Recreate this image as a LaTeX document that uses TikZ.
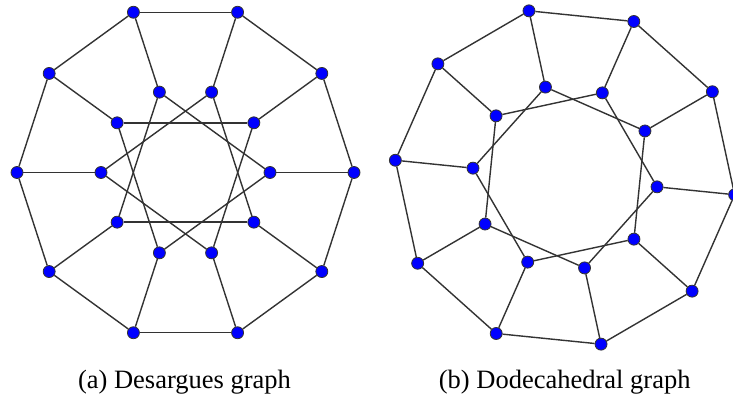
\documentclass[tikz,border=0pt]{standalone}
\usepackage{fontspec}
\setmainfont{Liberation Serif}
\usetikzlibrary{positioning}

\begin{document}
\begin{tikzpicture}[
    x=0.5pt, y=0.5pt,
    vert/.style={circle, draw=black!80, fill=blue, inner sep=0pt, minimum size=6pt, line width=0.4pt},
    edge/.style={draw=black!80, line width=0.7pt},
    caption/.style={anchor=base, font=\fontsize{13.25}{15}\selectfont}
]
    \useasboundingbox (0,0) rectangle (733,396);

    % Desargues graph
    \begin{scope}[shift={(185.5,223.5)}]
        \foreach \i in {0,...,9} {
            \node[vert] (desO\i) at (\i*36:168.5) {};
            \node[vert] (desI\i) at (\i*36:84.5) {};
        }
    \end{scope}

    % Dodecahedral graph
    \begin{scope}[shift={(565,218.5)}]
        \foreach \i in {0,...,9} {
            \node[vert] (dodO\i) at (\i*36-5.8:170.5) {};
            \node[vert] (dodI\i) at (\i*36-5.8:92.5) {};
        }
    \end{scope}

    % Edges: outer ring, spokes, inner star
    \foreach \i in {0,...,9} {
        \pgfmathtruncatemacro{\nxt}{mod(\i+1,10)}
        \pgfmathtruncatemacro{\tri}{mod(\i+3,10)}
        \pgfmathtruncatemacro{\two}{mod(\i+2,10)}
        \draw[edge] (desO\i) -- (desO\nxt);
        \draw[edge] (desO\i) -- (desI\i);
        \draw[edge] (desI\i) -- (desI\tri);
        \draw[edge] (dodO\i) -- (dodO\nxt);
        \draw[edge] (dodO\i) -- (dodI\i);
        \draw[edge] (dodI\i) -- (dodI\two);
    }

    % Captions
    \node[caption] (capa) at (184.5,8) {(a) Desargues graph};
    \node[caption] (capb) at (564.7,8) {(b) Dodecahedral graph};

\end{tikzpicture}
\end{document}
